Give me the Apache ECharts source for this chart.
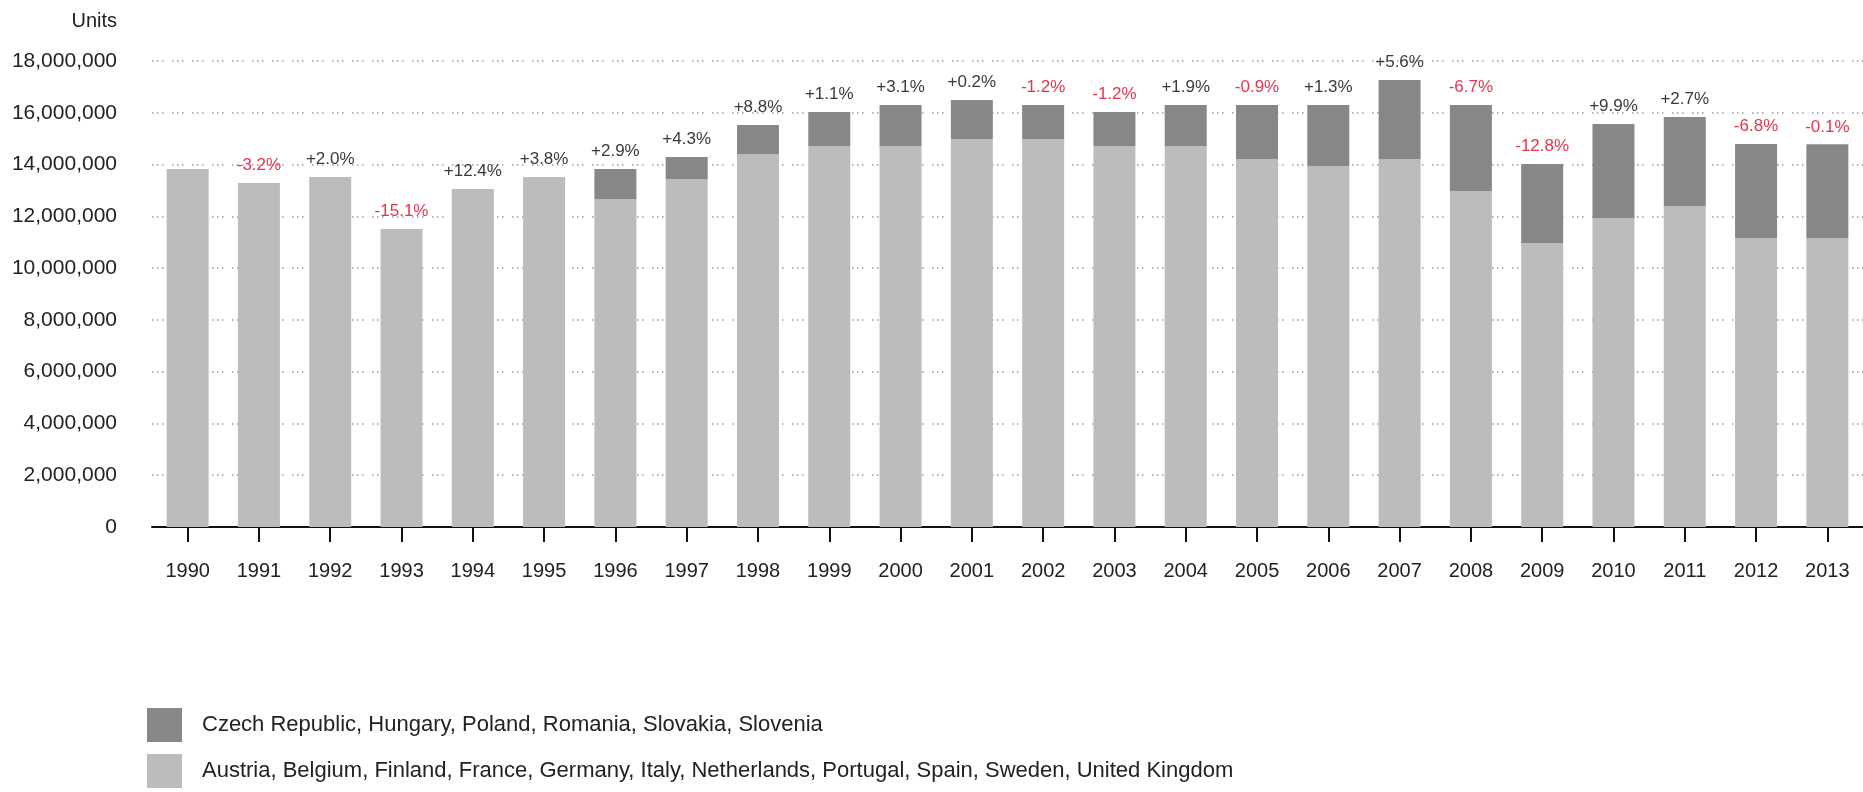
<!DOCTYPE html>
<html>
<head>
<meta charset="utf-8">
<script src="https://cdn.jsdelivr.net/npm/echarts@6/dist/echarts.min.js"></script>
<style>
html,body{margin:0;padding:0;background:#fff;}
#chart{width:1863px;height:792px;}
</style>
</head>
<body>
<div id="chart"></div>
<script>
const years = ['1990','1991','1992','1993','1994','1995','1996','1997','1998','1999','2000','2001','2002','2003','2004','2005','2006','2007','2008','2009','2010','2011','2012','2013'];
const westValues = [13830000,13290000,13520000,11510000,13060000,13520000,12670000,13440000,14410000,14720000,14720000,14990000,14990000,14720000,14720000,14210000,13940000,14210000,12980000,10970000,11930000,12400000,11160000,11160000];
const eastValues = [0,0,0,0,0,0,1160000,850000,1120000,1310000,1580000,1500000,1310000,1310000,1580000,2090000,2360000,3060000,3320000,3050000,3640000,3440000,3630000,3620000];
const changeLabels = ['','-3.2%','+2.0%','-15.1%','+12.4%','+3.8%','+2.9%','+4.3%','+8.8%','+1.1%','+3.1%','+0.2%','-1.2%','-1.2%','+1.9%','-0.9%','+1.3%','+5.6%','-6.7%','-12.8%','+9.9%','+2.7%','-6.8%','-0.1%'];
const eastName = 'Czech Republic, Hungary, Poland, Romania, Slovakia, Slovenia';
const westName = 'Austria, Belgium, Finland, France, Germany, Italy, Netherlands, Portugal, Spain, Sweden, United Kingdom';

const FONT = '"Liberation Sans", Arial, sans-serif';
const chart = echarts.init(document.getElementById('chart'), null, {renderer:'canvas'});

const eastData = eastValues.map((v, i) => ({
  value: v,
  label: { color: changeLabels[i].charAt(0) === '-' ? '#e2354f' : '#3a3a3a' }
}));

chart.setOption({
  animation: false,
  backgroundColor: '#fff',
  textStyle: { fontFamily: FONT },
  grid: { left: 152, right: 0, top: 61, bottom: 265, containLabel: false },
  legend: {
    orient: 'vertical',
    left: 147, top: 708,
    padding: 0,
    height: 84,
    itemWidth: 35, itemHeight: 34, itemGap: 12,
    icon: 'rect',
    data: [eastName, westName],
    textStyle: { fontSize: 22, color: '#222', fontFamily: FONT, padding: [0,0,0,15] }
  },
  xAxis: {
    type: 'category',
    data: years,
    axisLine: { show: true, lineStyle: { color: '#111', width: 2 } },
    axisTick: { show: true, alignWithLabel: true, length: 15, lineStyle: { color: '#111', width: 2 } },
    axisLabel: { fontSize: 20, color: '#222', margin: 34, fontFamily: FONT },
    splitLine: { show: false }
  },
  yAxis: {
    type: 'value',
    min: 0, max: 18000000, interval: 2000000,
    name: 'Units',
    nameLocation: 'end',
    nameGap: 40,
    nameTextStyle: { fontSize: 20, color: '#222', align: 'right', verticalAlign: 'middle', padding: [0, 35, 0, 0], fontFamily: FONT },
    axisLine: { show: false },
    axisTick: { show: false },
    axisLabel: {
      fontSize: 21, color: '#222', margin: 35, fontFamily: FONT,
      formatter: v => String(v).replace(/\B(?=(\d{3})+(?!\d))/g, ',')
    },
    splitLine: { show: true, lineStyle: { color: '#9a9a9a', width: 1.5, type: [1.5, 3.5, 1.5, 3.5, 1.5, 8.5] } }
  },
  series: [
    {
      name: westName,
      type: 'bar',
      stack: 'total',
      barWidth: 42,
      itemStyle: { color: '#bbbcbe' },
      data: westValues
    },
    {
      name: eastName,
      type: 'bar',
      stack: 'total',
      barWidth: 42,
      itemStyle: { color: '#868788' },
      label: {
        show: true,
        position: 'top',
        distance: 9,
        fontSize: 17,
        fontFamily: FONT,
        formatter: p => changeLabels[p.dataIndex]
      },
      data: eastData
    }
  ]
});
</script>
</body>
</html>
